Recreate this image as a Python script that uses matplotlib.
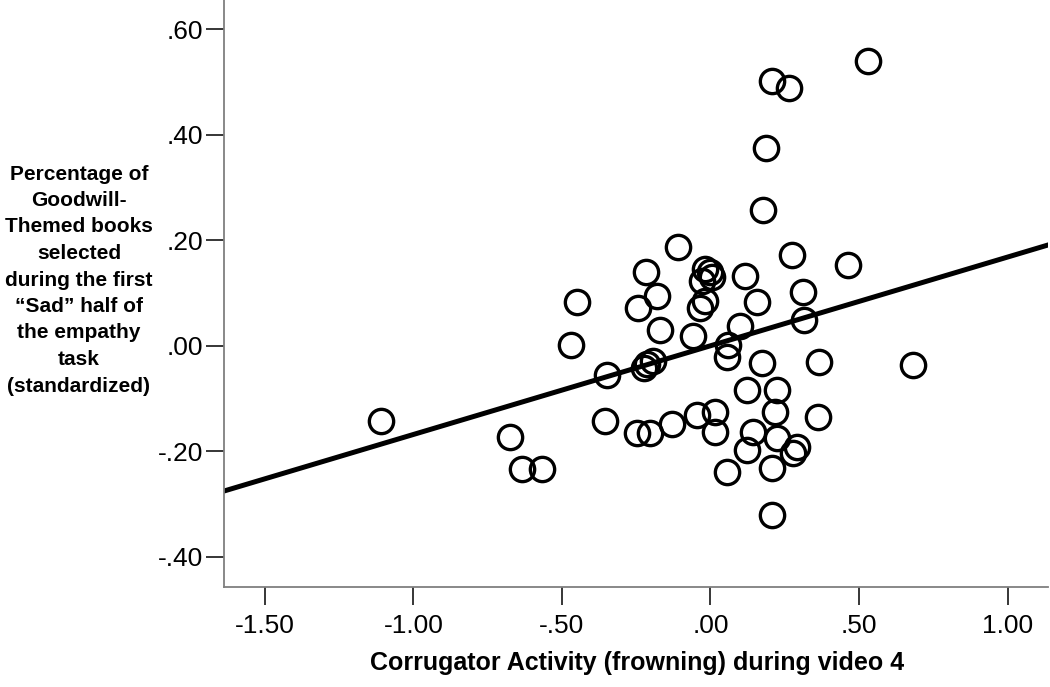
import matplotlib
matplotlib.use('Agg')
import matplotlib.pyplot as plt
import numpy as np

# corrugator activity (x) vs. goodwill books (y), both standardized
corrugator = [-1.110, -0.675, -0.636, -0.568, -0.471, -0.448, -0.350, -0.355,
              -0.243, -0.217, -0.181, -0.170, -0.215, -0.195, -0.225, -0.249,
              -0.204, -0.131, -0.110, -0.060, -0.046, -0.035, -0.019, -0.020,
              0.000, 0.005, -0.030, 0.015, 0.015, 0.054, 0.060, 0.055,
              0.099, 0.116, 0.122, 0.122, 0.144, 0.156, 0.172, 0.176,
              0.186, 0.206, 0.206, 0.206, 0.217, 0.223, 0.223, 0.265,
              0.273, 0.279, 0.290, 0.310, 0.315, 0.363, 0.366, 0.464,
              0.531, 0.681]
goodwill = [-0.143, -0.172, -0.234, -0.234, 0.001, 0.083, -0.055, -0.143,
            0.071, 0.140, 0.094, 0.030, -0.035, -0.028, -0.043, -0.165,
            -0.166, -0.148, 0.188, 0.018, -0.131, 0.071, 0.085, 0.146,
            0.140, 0.130, 0.122, -0.125, -0.163, -0.240, 0.001, -0.021,
            0.037, 0.132, -0.084, -0.198, -0.163, 0.083, -0.033, 0.257,
            0.374, 0.502, -0.232, -0.321, -0.125, -0.084, -0.175, 0.488,
            0.172, -0.204, -0.191, 0.102, 0.049, -0.134, -0.030, 0.153,
            0.540, -0.037]

# fit line
fit_slope = 0.168
fit_intercept = 0.0

xticks = [-1.5, -1.0, -0.5, 0.0, 0.5, 1.0]
xticklabels = ['-1.50', '-1.00', '-.50', '.00', '.50', '1.00']
yticks = [-0.4, -0.2, 0.0, 0.2, 0.4, 0.6]
yticklabels = ['-.40', '-.20', '.00', '.20', '.40', '.60']

xlabel = 'Corrugator Activity (frowning) during video 4'
ylabel = ('Percentage of\nGoodwill-\nThemed books\nselected\nduring the first\n'
          '\u201cSad\u201d half of\nthe empathy\ntask\n(standardized)')

plt.rcParams['font.family'] = ['Liberation Sans', 'DejaVu Sans']

fig = plt.figure(figsize=(10.5, 6.87), dpi=100)
ax = fig.add_axes([0.2133, 0.146, 0.7847, 0.854])

xlim = (-1.638, 1.136)
ax.set_xlim(xlim)
ax.set_ylim(-0.4564, 0.655)

xs = np.array(xlim)
ax.plot(xs, fit_intercept + fit_slope * xs, color='black', lw=3.6, zorder=2)
ax.plot(corrugator, goodwill, linestyle='none', marker='o', markersize=17.5,
        markerfacecolor='none', markeredgecolor='black', markeredgewidth=2.4,
        zorder=3)

ax.spines['top'].set_visible(False)
ax.spines['right'].set_visible(False)
for s in ['left', 'bottom']:
    ax.spines[s].set_color('#7f7f7f')
    ax.spines[s].set_linewidth(1.3)

ax.set_xticks(xticks)
ax.set_xticklabels(xticklabels)
ax.set_yticks(yticks)
ax.set_yticklabels(yticklabels)
ax.tick_params(axis='both', direction='out', length=13, width=1.1,
               color='black', labelsize=19)
ax.tick_params(axis='x', pad=7)
ax.tick_params(axis='y', pad=2)

fig.text(637 / 1050, 1 - 663 / 687, xlabel, ha='center', va='center',
         fontsize=18, fontweight='bold')
fig.text(79 / 1050, 1 - 280 / 687, ylabel, ha='center', va='center',
         fontsize=15, fontweight='bold', linespacing=1.5)

fig.savefig('out.png', dpi=100)
